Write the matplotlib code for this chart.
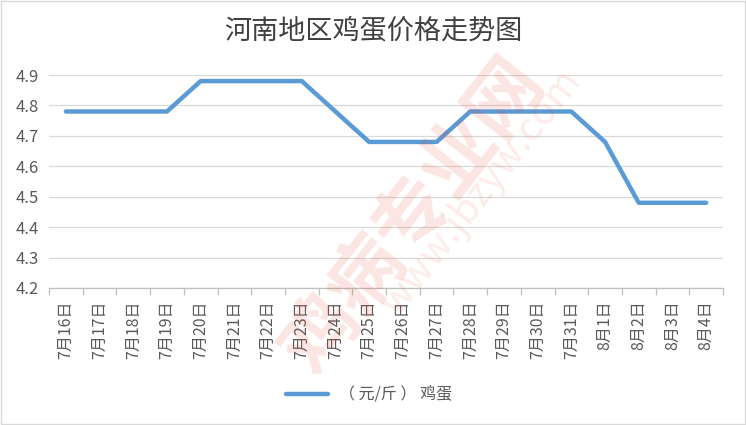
import numpy as np
import matplotlib.pyplot as plt
from matplotlib.patches import Rectangle

plt.rcParams['font.family'] = ['Noto Sans CJK SC', 'DejaVu Sans']

dates = ['7月16日', '7月17日', '7月18日', '7月19日', '7月20日', '7月21日', '7月22日',
         '7月23日', '7月24日', '7月25日', '7月26日', '7月27日', '7月28日', '7月29日',
         '7月30日', '7月31日', '8月1日', '8月2日', '8月3日', '8月4日']
prices = [4.78, 4.78, 4.78, 4.78, 4.88, 4.88, 4.88, 4.88, 4.78, 4.68, 4.68, 4.68,
          4.78, 4.78, 4.78, 4.78, 4.68, 4.48, 4.48, 4.48]
series_name = '（ 元/斤 ） 鸡蛋'
title = '河南地区鸡蛋价格走势图'
yticks = [4.2, 4.3, 4.4, 4.5, 4.6, 4.7, 4.8, 4.9]


def main():
    fig = plt.figure(figsize=(7.46, 4.25), dpi=100)
    ax = fig.add_axes([49 / 746, 1 - 288 / 425, 674 / 746, 213 / 425])

    # watermark
    fig.text(0.555, 0.49, '鸡病专业网', fontsize=54, fontweight='bold', color='#e8493a',
             alpha=0.14, rotation=52, ha='center', va='center', zorder=0)
    fig.text(0.645, 0.55, 'www.jbzyw.com', fontsize=28, color='#e8493a',
             alpha=0.10, rotation=52, ha='center', va='center', zorder=0)

    x = np.arange(len(dates))
    ax.plot(x, prices, color='#5B9BD5', lw=3.2, solid_capstyle='round',
            solid_joinstyle='round', label=series_name, zorder=3)

    ax.set_xlim(-0.5, len(dates) - 0.5)
    ax.set_ylim(4.2, 4.9)
    ax.set_yticks(yticks)
    ax.set_yticklabels(['%.1f' % v for v in yticks])
    ax.yaxis.grid(True, color='#D9D9D9', lw=0.9)
    ax.set_axisbelow(True)

    ax.set_xticks(x)
    ax.set_xticklabels(dates, rotation=90)
    ax.set_xticks(np.arange(-0.5, len(dates)), minor=True)
    ax.tick_params(axis='x', which='major', length=0, pad=9, labelsize=11.5, labelcolor='#595959')
    ax.tick_params(axis='x', which='minor', length=5, color='#BFBFBF', width=0.9)
    ax.tick_params(axis='y', length=0, pad=7, labelsize=12, labelcolor='#595959')

    for s in ['top', 'right', 'left']:
        ax.spines[s].set_visible(False)
    ax.spines['bottom'].set_color('#BFBFBF')
    ax.spines['bottom'].set_linewidth(0.9)
    ax.patch.set_alpha(0)

    fig.text(0.5, 1 - 31 / 425, title, fontsize=19.5, color='#404040', ha='center', va='center')

    leg = fig.legend(loc='center', bbox_to_anchor=(0.495, 1 - 395 / 425), frameon=False,
                     fontsize=11.5, handlelength=2.6, handletextpad=0.7)
    for t in leg.get_texts():
        t.set_color('#595959')

    fig.patches.append(Rectangle((0.001, 0.002), 0.997, 0.996, transform=fig.transFigure,
                                 fill=False, edgecolor='#D9D9D9', lw=1))

    fig.savefig('out.png', dpi=100)


if __name__ == '__main__':
    main()
